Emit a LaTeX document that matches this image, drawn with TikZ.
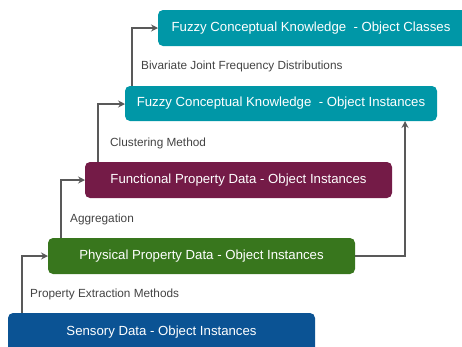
\documentclass[tikz,border=0pt]{standalone}
\usepackage{fontspec}
\setmainfont{Liberation Sans}
\usetikzlibrary{arrows.meta}
\definecolor{tealc}{HTML}{0097A7}
\definecolor{maroonc}{HTML}{741B47}
\definecolor{greenc}{HTML}{38761D}
\definecolor{bluec}{HTML}{0B5394}
\definecolor{linec}{HTML}{595959}
\definecolor{labelc}{HTML}{434343}
\tikzset{
  box/.style={rounded corners=5pt, inner sep=0pt, text=white, font=\fontsize{13.2}{15}\selectfont},
  conn/.style={draw=linec, line width=1.5pt, -{Stealth[length=7pt,width=7pt,inset=2.5pt]}},
  lbl/.style={anchor=west, inner sep=0pt, text=labelc, font=\fontsize{11.8}{13}\selectfont},
}
\begin{document}
\begin{tikzpicture}[x=1pt,y=-1pt]
\useasboundingbox (0,0) rectangle (462,346);
\clip (0,0) rectangle (462,346);
% boxes
\fill[tealc, rounded corners=5pt] (158,10) rectangle (470,46);
\node[box] (cls) at (311,28) {Fuzzy Conceptual Knowledge\ \ - Object Classes};
\coordinate (clsW) at (158,28);
\fill[tealc, rounded corners=5pt] (125,86) rectangle (437,121);
\node[box] (fin) at (281,103.5) {Fuzzy Conceptual Knowledge\ \ - Object Instances};
\coordinate (finW) at (125,104);
\coordinate (finB) at (405,121);
\fill[maroonc, rounded corners=5pt] (85,162) rectangle (392,198);
\node[box] (fun) at (238.5,180) {Functional Property Data - Object Instances};
\coordinate (funW) at (85,180);
\coordinate (funT) at (98,162);
\fill[greenc, rounded corners=5pt] (48,238) rectangle (355,274);
\node[box] (phy) at (201.5,256) {Physical Property Data - Object Instances};
\coordinate (phyW) at (48,256);
\coordinate (phyE) at (355,256);
\coordinate (phyT) at (61,238);
\fill[bluec, rounded corners=5pt] (8,313) rectangle (315,360);
\node[box] (sen) at (161.5,332) {Sensory Data - Object Instances};
\coordinate (senT) at (22,313);
\coordinate (finT) at (132,86);
% connectors
\draw[conn] (senT) |- (phyW);
\draw[conn] (phyT) |- (funW);
\draw[conn] (funT) |- (finW);
\draw[conn] (finT) |- (clsW);
\draw[conn] (phyE) -| (finB);
% labels
\node[lbl] (l1) at (141,66) {Bivariate Joint Frequency Distributions};
\node[lbl] (l2) at (110,143) {Clustering Method};
\node[lbl] (l3) at (70,219) {Aggregation};
\node[lbl] (l4) at (30,294.5) {Property Extraction Methods};
\end{tikzpicture}
\end{document}
